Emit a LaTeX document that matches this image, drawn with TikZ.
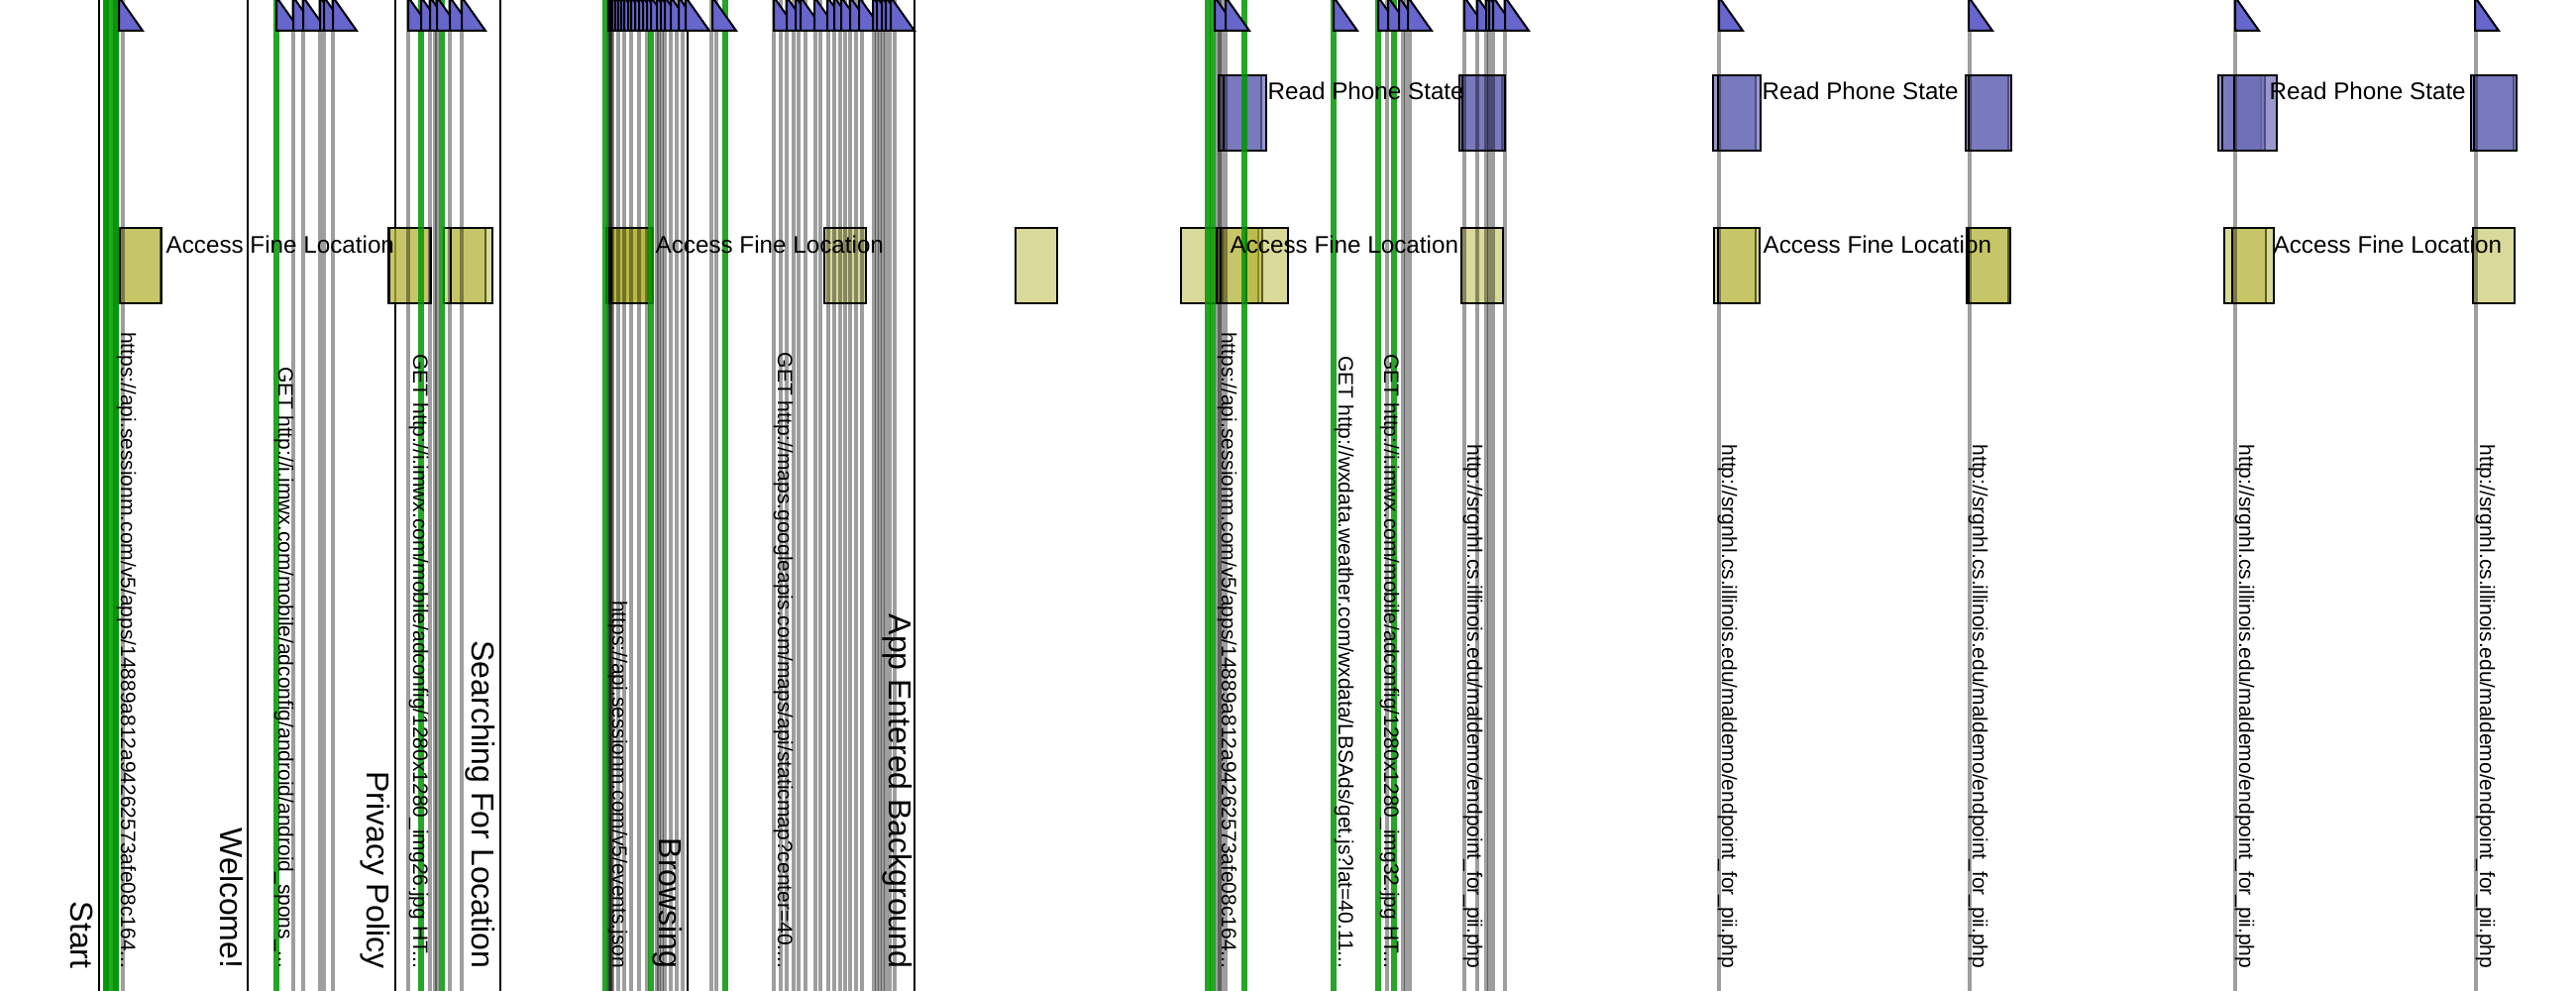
\documentclass[tikz,border=0pt]{standalone}
\usepackage{fontspec}
\setmainfont{Liberation Sans}
\definecolor{evgreen}{RGB}{0,150,0}
\definecolor{triblue}{RGB}{102,102,204}
\definecolor{boxyellow}{RGB}{181,181,55}
\definecolor{boxblue}{RGB}{109,109,183}
\begin{document}
\begin{tikzpicture}[x=0.3pt,y=-0.3pt,
  evline/.style={draw=black,draw opacity=0.38,line width=1pt},
  greenev/.style={draw=evgreen,draw opacity=0.85,line width=1.8pt},
  screenline/.style={draw=black,line width=0.45pt},
  flag/.style={fill=triblue,draw=black,line width=0.6pt,line join=miter},
  ybox/.style={fill=boxyellow,fill opacity=0.5,draw=black,line width=0.6pt},
  bbox/.style={fill=boxblue,fill opacity=0.7,draw=black,line width=0.6pt},
  urltext/.style={font=\fontsize{6.3}{7.5}\selectfont,rotate=-90,anchor=base east,inner sep=0pt},
  screentext/.style={font=\fontsize{9.6}{11.5}\selectfont,rotate=-90,anchor=base east,inner sep=0pt},
  permtext/.style={font=\fontsize{7.27}{8.7}\selectfont,anchor=base west,inner sep=0pt}]
\useasboundingbox (0,0) rectangle (2600,1000);
\clip (0,0) rectangle (2600,1000);
\fill[white] (0,0) rectangle (2600,1000);

% screen boundaries
\foreach \x in {100,250,399,505,694,923}
  \draw[screenline] (\x,0) -- (\x,1000);

% yellow permission boxes (Access Fine Location)
\foreach \x in {120,121,392,393,448,455,612,614,616,617,832,1025,1192,1228,1232,1258,1475,1730,1734,1985,1987,2245,2253,2496}
  \draw[ybox] (\x,230) rectangle (\x+41.5,306);

% blue permission boxes (Read Phone State)
\foreach \x in {1230,1235,1473,1476,1729,1734,1984,1987,2239,2243,2255,2494,2497}
  \draw[bbox] (\x,76) rectangle (\x+43,152);

% gray event lines
\foreach \x in {124,
  296,306,323,327,336,
  412,434,439,441,454,466,
  614,615,616,617,618,624,630,637,645,653,663,665,668,671,677,683,689,718,723,
  781,788,794,801,806,813,823,828,836,842,848,853,858,864,870,882,885,888,891,894,898,903,
  1229,1231,1233,1237,
  1400,1416,1419,1423,
  1478,1491,1500,1503,1507,1519,
  1735,1988,2256,2499}
  \draw[evline] (\x,0) -- (\x,1000);

% green event lines
\foreach \x in {107,107,112,117,117,279,425,446,611,657,732,1219,1224,1256,1346,1391,1407}
  \draw[greenev] (\x,0) -- (\x,1000);

% event flags
\foreach \x in {120,
  279,296,306,323,327,336,
  412,425,434,441,454,466,
  614,616,618,621,624,627,630,634,637,641,645,649,653,657,663,667,671,677,685,692,719,
  781,794,803,808,822,835,842,849,858,867,881,885,890,894,899,
  1226,1237,
  1346,1391,1401,1412,1421,
  1478,1491,1500,1503,1507,1519,
  1735,1987,2256,2498}
  \draw[flag] (\x,-3) -- (\x,31) -- (\x+24,31) -- cycle;

% screen labels
\node[screentext] (sStart) at (71,978) {Start};
\node[screentext] (sWelcome) at (222,978) {Welcome!};
\node[screentext] (sPrivacy) at (370,978) {Privacy Policy};
\node[screentext] (sSearch) at (476,978) {Searching For Location};
\node[screentext] (sBrowse) at (665,978) {Browsing};
\node[screentext] (sBack) at (897,978) {App Entered Background};

% request labels
\node[urltext] (u1) at (122,978) {https://api.sessionm.com/v5/apps/14889a812a94262573afe08c164...};
\node[urltext] (u2) at (281,978) {GET http://i.imwx.com/mobile/adconfig/android/android\_spons\_...};
\node[urltext] (u3) at (417,978) {GET http://i.imwx.com/mobile/adconfig/1280x1280\_img26.jpg HT...};
\node[urltext] (u4) at (618,978) {https://api.sessionm.com/v5/events.json};
\node[urltext] (u5) at (785,978) {GET http://maps.googleapis.com/maps/api/staticmap?center=40....};
\node[urltext] (u6) at (1233,978) {https://api.sessionm.com/v5/apps/14889a812a94262573afe08c164...};
\node[urltext] (u7) at (1351,978) {GET http://wxdata.weather.com/wxdata/LBSAds/get.js?lat=40.11...};
\node[urltext] (u8) at (1397,978) {GET http://i.imwx.com/mobile/adconfig/1280x1280\_img32.jpg HT...};
\node[urltext] (u9) at (1481,978) {http://srgnhl.cs.illinois.edu/maldemo/endpoint\_for\_pii.php};
\node[urltext] (u10) at (1738,978) {http://srgnhl.cs.illinois.edu/maldemo/endpoint\_for\_pii.php};
\node[urltext] (u11) at (1991,978) {http://srgnhl.cs.illinois.edu/maldemo/endpoint\_for\_pii.php};
\node[urltext] (u12) at (2260,978) {http://srgnhl.cs.illinois.edu/maldemo/endpoint\_for\_pii.php};
\node[urltext] (u13) at (2503,978) {http://srgnhl.cs.illinois.edu/maldemo/endpoint\_for\_pii.php};

% permission labels
\node[permtext] (pL1) at (167,256) {Access Fine Location};
\node[permtext] (pL2) at (661,256) {Access Fine Location};
\node[permtext] (pL3) at (1241,256) {Access Fine Location};
\node[permtext] (pL4) at (1779,256) {Access Fine Location};
\node[permtext] (pL5) at (2294,256) {Access Fine Location};
\node[permtext] (pP1) at (1279,101) {Read Phone State};
\node[permtext] (pP2) at (1778,101) {Read Phone State};
\node[permtext] (pP3) at (2290,101) {Read Phone State};
\end{tikzpicture}
\end{document}
